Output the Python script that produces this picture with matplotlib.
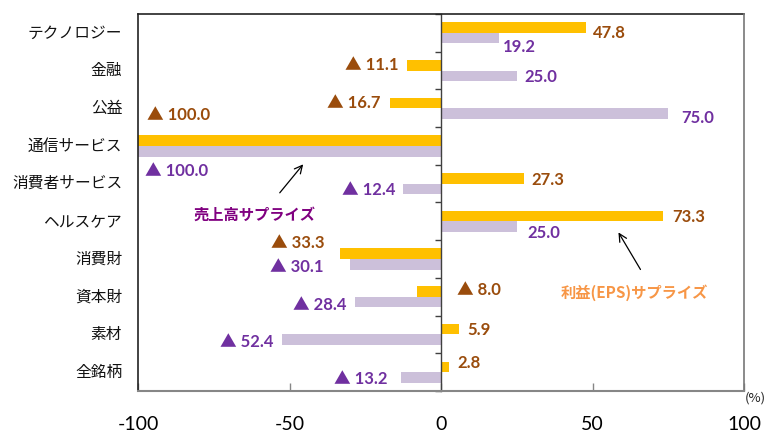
import matplotlib
matplotlib.use('Agg')
import matplotlib.pyplot as plt
import numpy as np

sectors = ['テクノロジー', '金融', '公益', '通信サービス', '消費者サービス',
           'ヘルスケア', '消費財', '資本財', '素材', '全銘柄']
eps_surprise = [47.8, -11.1, -16.7, -100.0, 27.3, 73.3, -33.3, -8.0, 5.9, 2.8]
sales_surprise = [19.2, 25.0, 75.0, -100.0, -12.4, 25.0, -30.1, -28.4, -52.4, -13.2]
x_ticks = [-100, -50, 0, 50, 100]

# label nudges in pixels from the bar end / bar centre (dx, dy-down, ha)
eps_label_pos = [(7, 5, 'left'), (-9, 0, 'right'), (-10, 0, 'right'), (9, -26, 'left'),
                 (8, 2, 'left'), (9, 1, 'left'), (-16, -11, 'right'), (40, -1, 'left'),
                 (8, 1, 'left'), (8, -4, 'left')]
sales_label_pos = [(4, 9, 'left'), (8, 1, 'left'), (13, 4, 'left'), (7, 20, 'left'),
                   (-8, 1, 'right'), (11, 6, 'left'), (-26, 3, 'right'), (-8, 3, 'right'),
                   (-9, 2, 'right'), (-14, 2, 'right')]

orange = '#FFC000'
lavender = '#CCC0DA'
brown = '#9A4C0C'
purple = '#7030A0'

jp = ['Noto Sans CJK JP', 'DejaVu Sans']
num = ['Lato', 'Noto Sans CJK JP', 'DejaVu Sans']

fig = plt.figure(figsize=(7.67, 4.33), dpi=100)
ax = fig.add_axes([138 / 767, 42 / 433, 606 / 767, 377 / 433])

y = np.arange(len(sectors))
bh = 0.28
ax.barh(y - bh / 2, eps_surprise, height=bh, color=orange, zorder=2)
ax.barh(y + bh / 2, sales_surprise, height=bh, color=lavender, zorder=2)

ax.set_xlim(-100, 100)
ax.set_ylim(len(sectors) - 0.5, -0.5)


def label_text(v):
    return '▲ {:.1f}'.format(abs(v)) if v < 0 else '{:.1f}'.format(v)


def put_labels(values, offsets, yshift, color):
    for i, v in enumerate(values):
        dx, dy, ha = offsets[i]
        ax.annotate(label_text(v), xy=(v, i + yshift), xytext=(dx, -dy),
                    textcoords='offset pixels', ha=ha, va='center',
                    fontsize=12, fontweight='bold', color=color, family=num,
                    zorder=4)


put_labels(eps_surprise, eps_label_pos, -bh / 2, brown)
put_labels(sales_surprise, sales_label_pos, bh / 2, purple)

# category axis sits on x=0, frame drawn separately
for s in ['top', 'right', 'bottom']:
    ax.spines[s].set_visible(False)
ax.spines['left'].set_position(('data', 0))
ax.spines['left'].set_color('#404040')
ax.spines['left'].set_linewidth(1.0)
ax.spines['left'].set_zorder(3)
ax.set_yticks(np.arange(-0.5, len(sectors), 1.0))
ax.set_yticklabels([])
ax.tick_params(axis='y', direction='out', length=4, width=1, color='#404040')

for i, name in enumerate(sectors):
    ax.text(-0.026, i, name, transform=ax.get_yaxis_transform(), ha='right',
            va='center', fontsize=11.3, family=jp, color='#111111')

ax.set_xticks(x_ticks)
ax.set_xticklabels([str(t) for t in x_ticks], family=num, fontsize=14)
ax.tick_params(axis='x', direction='in', length=6, width=1, color='#868686', pad=18)

frame_lines = [((0, 0), (0, 1), '#222222'), ((0, 1), (1, 1), '#222222'),
               ((1, 1), (1, 0), '#777777')]
for (x0, y0), (x1, y1), c in frame_lines:
    ax.plot([x0, x1], [y0, y1], transform=ax.transAxes, color=c, lw=1.2,
            clip_on=False, zorder=5)
ax.plot([0, 1], [0, 0], transform=ax.transAxes, color='#868686', lw=1.5,
        clip_on=False, zorder=5)

ax.text(1.002, -0.018, '(%)', transform=ax.transAxes, ha='left', va='center',
        fontsize=9.5, family=jp, color='#222222')

ax.annotate('', xy=(-44.9, 3.43), xytext=(-53.8, 4.30),
            arrowprops=dict(arrowstyle='->', color='black', lw=0.9,
                            mutation_scale=14))
ax.text(-61.7, 4.83, '売上高サプライズ', ha='center', va='center', fontsize=11,
        fontweight='bold', color='#800080', family=jp)

ax.annotate('', xy=(58.1, 5.23), xytext=(66.3, 6.34),
            arrowprops=dict(arrowstyle='->', color='black', lw=0.9,
                            mutation_scale=14))
ax.text(63.7, 6.90, '利益(EPS)サプライズ', ha='center', va='center', fontsize=11,
        fontweight='bold', color='#F79646', family=jp)

fig.savefig('out.png', dpi=100, facecolor='white')
